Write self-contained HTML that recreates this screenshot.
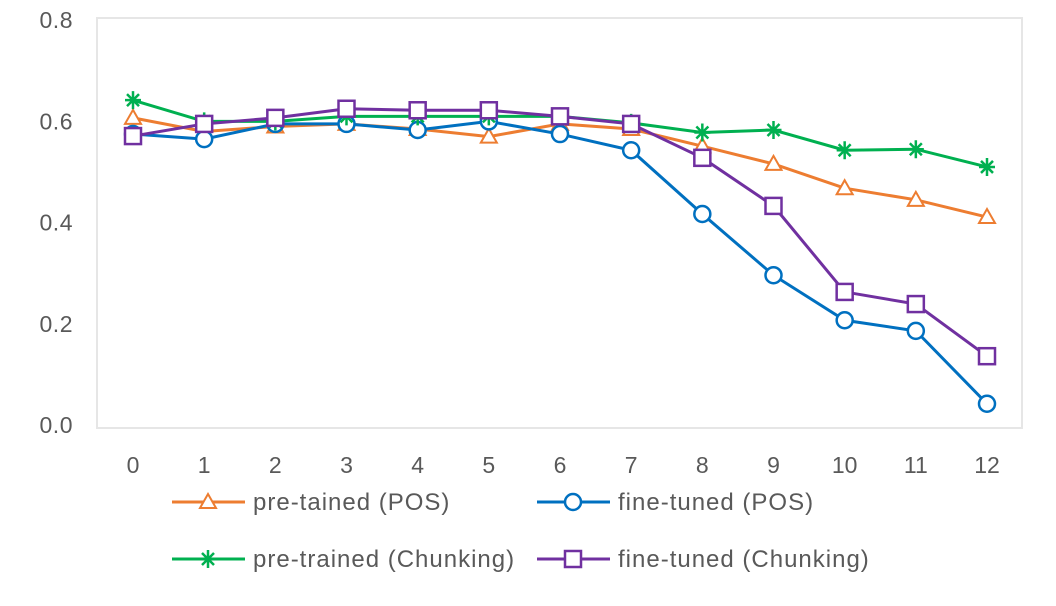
<!DOCTYPE html>
<html><head><meta charset="utf-8"><style>
body{margin:0;background:#fff;}
svg{display:block;font-family:"Liberation Sans",sans-serif;}
</style></head><body>
<svg id="chart" width="1056" height="606">
<rect x="97" y="18" width="925" height="410" fill="#fff" stroke="#e6e6e6" stroke-width="2"/>
<g id="yaxis"></g>
<g id="xaxis"></g>
<g id="series"></g>
<g id="legend"></g>
</svg>
<script>
const categories=[0,1,2,3,4,5,6,7,8,9,10,11,12];
const yTicks=[0,0.2,0.4,0.6,0.8];
const yTickLabels=["0.0","0.2","0.4","0.6","0.8"];
const preTrainedPOS=[0.607,0.58,0.59,0.595,0.585,0.57,0.595,0.585,0.551,0.516,0.468,0.445,0.411];
const fineTunedPOS=[0.575,0.565,0.595,0.595,0.583,0.6,0.575,0.543,0.417,0.296,0.207,0.186,0.042];
const preTrainedChunk=[0.642,0.6,0.6,0.61,0.61,0.61,0.61,0.597,0.578,0.583,0.543,0.545,0.51];
const fineTunedChunk=[0.571,0.595,0.607,0.625,0.622,0.622,0.61,0.595,0.528,0.433,0.263,0.239,0.136];
const seriesNames=["pre-tained (POS)","fine-tuned (POS)","pre-trained (Chunking)","fine-tuned (Chunking)"];

const NS="http://www.w3.org/2000/svg";
const xScale=i=>133+i*(987-133)/12;
const yScale=v=>425-v*506;
function mk(tag,attrs,parent){const e=document.createElementNS(NS,tag);for(const k in attrs)e.setAttribute(k,attrs[k]);parent.appendChild(e);return e;}
const yg=document.getElementById('yaxis'),xg=document.getElementById('xaxis'),sg=document.getElementById('series'),lg=document.getElementById('legend');
yTicks.forEach((v,i)=>{const t=mk('text',{x:73,y:yScale(v)+8,'text-anchor':'end','font-size':23,fill:'#595959','letter-spacing':0.5},yg);t.textContent=yTickLabels[i];

});
categories.forEach((c,i)=>{const t=mk('text',{x:xScale(i),y:473,'text-anchor':'middle','font-size':23,fill:'#595959'},xg);t.textContent=c;

});
function marker(type,x,y,color,parent){
 let e;
 if(type==='tri')e=mk('path',{d:`M${x},${y-8}L${x+8},${y+6}L${x-8},${y+6}Z`,fill:'#fff',stroke:color,'stroke-width':2},parent);
 else if(type==='circ')e=mk('circle',{cx:x,cy:y,r:8,fill:'#fff',stroke:color,'stroke-width':2.5},parent);
 else if(type==='sq')e=mk('rect',{x:x-8,y:y-8,width:16,height:16,fill:'#fff',stroke:color,'stroke-width':2.5},parent);
 else e=mk('path',{d:`M${x-8},${y}H${x+8}M${x},${y-9}V${y+9}M${x-6},${y-6}L${x+6},${y+6}M${x-6},${y+6}L${x+6},${y-6}`,stroke:color,'stroke-width':2.5},parent);
 
 
}
const defs=[[preTrainedPOS,'#ed7d31','tri'],[fineTunedPOS,'#0070c0','circ'],[preTrainedChunk,'#00b050','star'],[fineTunedChunk,'#7030a0','sq']];
const slugs=['pretrained-pos','finetuned-pos','pretrained-chunking','finetuned-chunking'];
defs.forEach((d,k)=>{const g=mk('g',{},sg);
 
 
 const p=mk('polyline',{points:d[0].map((v,i)=>xScale(i)+','+yScale(v)).join(' '),fill:'none',stroke:d[1],'stroke-width':3},g);
 
 
 d[0].forEach((v,i)=>marker(d[2],xScale(i),yScale(v),d[1],g));
});
const lpos=[[172,502],[537,502],[172,559],[537,559]];
defs.forEach((d,k)=>{const [x,y]=lpos[k];const g=mk('g',{},lg);
 
 
 mk('line',{x1:x,y1:y,x2:x+73,y2:y,stroke:d[1],'stroke-width':3},g);
 marker(d[2],x+36,y,d[1],g);
 const t=mk('text',{x:x+81,y:y+8,'font-size':24,fill:'#595959','letter-spacing':1},g);t.textContent=seriesNames[k];
 
 
});
</script>
</body></html>
